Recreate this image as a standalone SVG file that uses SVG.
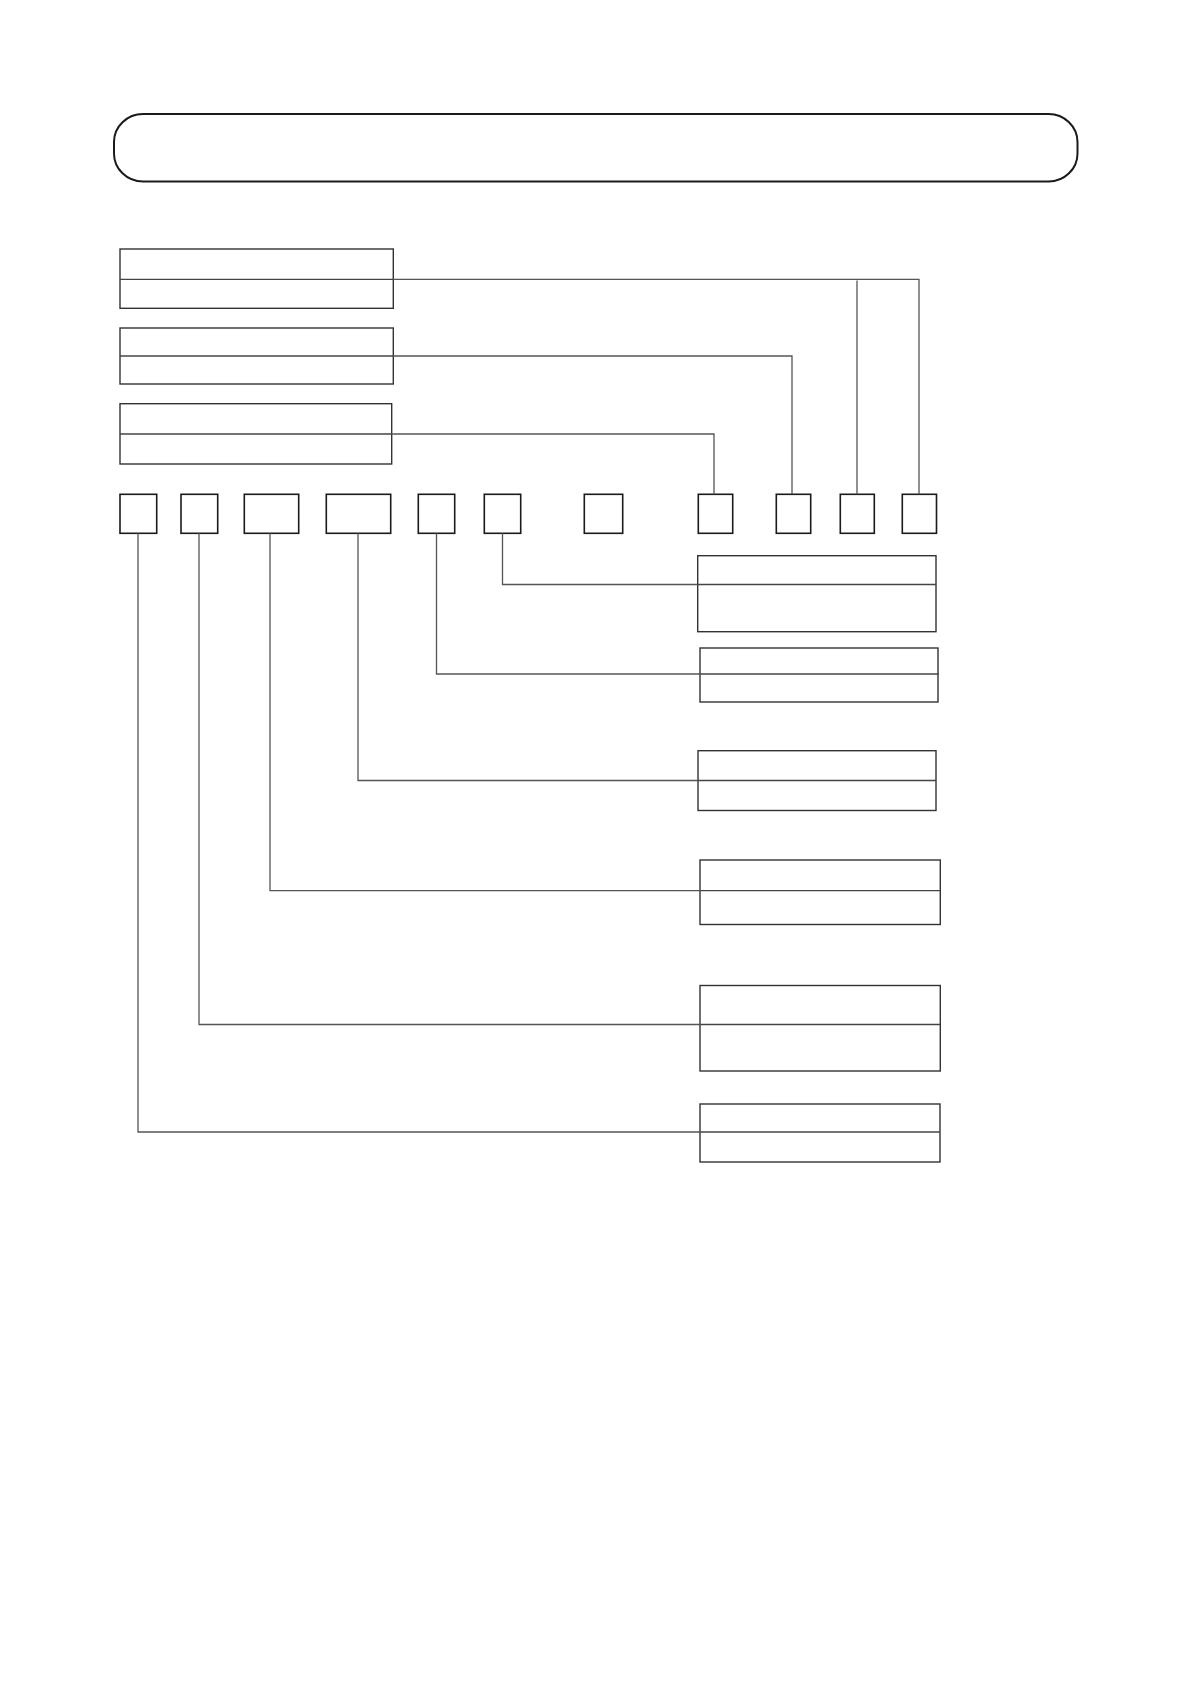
<svg xmlns="http://www.w3.org/2000/svg" width="1191" height="1684" viewBox="0 0 1191 1684">
<style>
.frame{fill:#fff;stroke:#1a1a1a;stroke-width:2}
.box{fill:#fff;stroke:#333;stroke-width:1.4}
.sq{fill:#fff;stroke:#1a1a1a;stroke-width:1.6}
.div{stroke:#444;stroke-width:1.3;fill:none}
.con{stroke:#555;stroke-width:1.3;fill:none}
</style>
<rect width="1191" height="1684" fill="#fff"/>
<g id="title"><rect class="frame" x="114" y="114" width="963.5" height="67.5" rx="29" ry="28"/></g>
<g id="L1"><rect class="box" x="120" y="249" width="273.3" height="59.3"/><line class="div" x1="120" y1="279.3" x2="393.3" y2="279.3"/></g>
<g id="L2"><rect class="box" x="120" y="328" width="273.3" height="56"/><line class="div" x1="120" y1="356" x2="393.3" y2="356"/></g>
<g id="L3"><rect class="box" x="120" y="403.7" width="271.7" height="60.3"/><line class="div" x1="120" y1="434" x2="391.7" y2="434"/></g>
<g id="Sa"><rect class="sq" x="120" y="494.3" width="36.7" height="39"/></g>
<g id="Sb"><rect class="sq" x="181" y="494.3" width="36.7" height="39"/></g>
<g id="Sc"><rect class="sq" x="244.3" y="494.3" width="54.4" height="39"/></g>
<g id="Sd"><rect class="sq" x="326.3" y="494.3" width="64.4" height="39"/></g>
<g id="Se"><rect class="sq" x="418.3" y="494.3" width="36.4" height="39"/></g>
<g id="Sf"><rect class="sq" x="484.3" y="494.3" width="36.4" height="39"/></g>
<g id="Sg"><rect class="sq" x="584.3" y="494.3" width="38.4" height="39"/></g>
<g id="Sh"><rect class="sq" x="698.3" y="494.3" width="34.4" height="39"/></g>
<g id="Si"><rect class="sq" x="776.3" y="494.3" width="34.4" height="39"/></g>
<g id="Sj"><rect class="sq" x="840.3" y="494.3" width="34" height="39"/></g>
<g id="Sk"><rect class="sq" x="902.3" y="494.3" width="34.2" height="39"/></g>
<g id="R1"><rect class="box" x="697.7" y="555.7" width="238.3" height="76"/><line class="div" x1="697.7" y1="584.5" x2="936" y2="584.5"/></g>
<g id="R2"><rect class="box" x="700" y="648" width="238" height="54"/><line class="div" x1="700" y1="674" x2="939" y2="674"/></g>
<g id="R3"><rect class="box" x="698" y="750.7" width="238" height="59.8"/><line class="div" x1="698" y1="780.5" x2="936" y2="780.5"/></g>
<g id="R4"><rect class="box" x="700" y="860" width="240.3" height="64.5"/><line class="div" x1="700" y1="890.7" x2="940.3" y2="890.7"/></g>
<g id="R5"><rect class="box" x="700" y="985.5" width="240.3" height="85.5"/><line class="div" x1="700" y1="1024.5" x2="940.3" y2="1024.5"/></g>
<g id="R6"><rect class="box" x="700" y="1104" width="240" height="58"/><line class="div" x1="700" y1="1132" x2="940" y2="1132"/></g>
<g id="connectors">
<polyline class="con" points="393.3,279.3 919,279.3 919,494.3"/>
<line class="con" x1="857" y1="280.5" x2="857" y2="494.3"/>
<polyline class="con" points="393.3,356 792,356 792,494.3"/>
<polyline class="con" points="391.7,434 714,434 714,494.3"/>
<polyline class="con" points="502.5,533.3 502.5,584.5 697.7,584.5"/>
<polyline class="con" points="436.5,533.3 436.5,674 700,674"/>
<polyline class="con" points="358,533.3 358,780.5 698,780.5"/>
<polyline class="con" points="270,533.3 270,890.7 700,890.7"/>
<polyline class="con" points="199,533.3 199,1024.5 700,1024.5"/>
<polyline class="con" points="138,533.3 138,1132 700,1132"/>
</g>
</svg>
